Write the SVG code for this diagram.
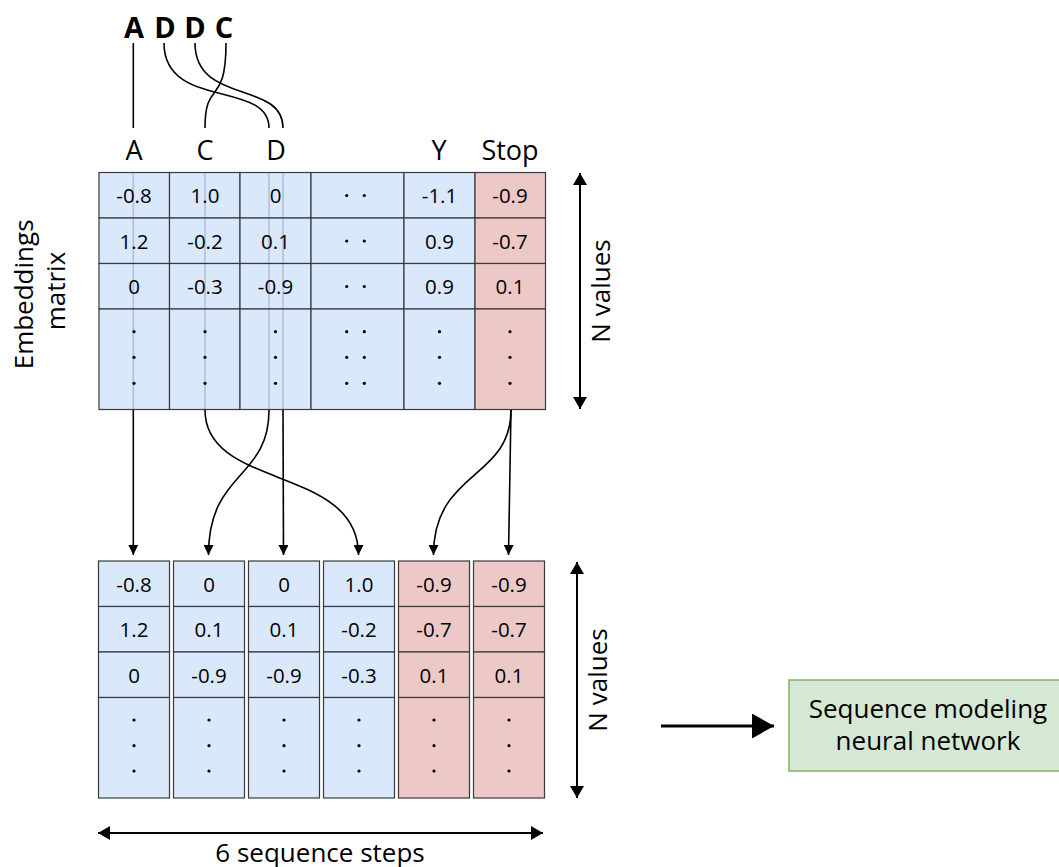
<svg xmlns="http://www.w3.org/2000/svg" width="1059" height="867" viewBox="0 0 1059 867">
  <style>
    text { font-family: "Open Sans", "Noto Sans", sans-serif; fill: #000; }
    .cell { font-size: 20.5px; text-anchor: middle; }
    .lbl { font-size: 27px; text-anchor: middle; }
    .big { font-size: 29px; font-weight: bold; text-anchor: middle; }
    .note { font-size: 26px; text-anchor: middle; }
    .blue { fill: #dae8fc; stroke: #3a3a3a; stroke-width: 1.2; }
    .red { fill: #ecc9c7; stroke: #3a3a3a; stroke-width: 1.2; }
    .edge { fill: none; stroke: #000; stroke-width: 1.6; }
    .ghost { stroke: #1f3350; stroke-opacity: 0.22; stroke-width: 1.6; }
    .dot { fill: #000; }
  </style>
  <defs>
    <marker id="arrSmall" viewBox="0 0 10 10" markerWidth="10" markerHeight="10" refX="10" refY="5" orient="auto" markerUnits="userSpaceOnUse">
      <path d="M0,0 L10,5 L0,10 z" fill="#000"/>
    </marker>
    <marker id="arrMid" viewBox="0 0 12 14" markerWidth="12" markerHeight="14" refX="12" refY="7" orient="auto-start-reverse" markerUnits="userSpaceOnUse">
      <path d="M0,0 L12,7 L0,14 z" fill="#000"/>
    </marker>
    <marker id="arrBig" viewBox="0 0 22 25" markerWidth="22" markerHeight="25" refX="22" refY="12.5" orient="auto" markerUnits="userSpaceOnUse">
      <path d="M0,0 L22,12.5 L0,25 z" fill="#000"/>
    </marker>
  </defs>

  <rect width="1059" height="867" fill="#fff"/>

  <!-- input word -->
  <g id="word">
    <text class="big" x="134" y="38">A</text>
    <text class="big" x="165" y="38">D</text>
    <text class="big" x="195" y="38">D</text>
    <text class="big" x="224" y="38">C</text>
  </g>

  <!-- vocabulary labels -->
  <g id="vocab-labels">
    <text class="lbl" x="134" y="160">A</text>
    <text class="lbl" x="205" y="160">C</text>
    <text class="lbl" x="276" y="160">D</text>
    <text class="lbl" x="439" y="160">Y</text>
    <text class="lbl" x="510" y="160">Stop</text>
  </g>

  <g id="embeddings-label">
    <text class="note" transform="translate(0,291) rotate(-90)">
      <tspan x="0" y="33">Embeddings</tspan>
      <tspan x="0" y="65">matrix</tspan>
    </text>
  </g>

  <!-- embeddings matrix -->
  <g id="embeddings-matrix">
    <!-- column A -->
    <rect class="blue" x="99" y="172.5" width="70.5" height="45.5"/>
    <rect class="blue" x="99" y="218" width="70.5" height="45.5"/>
    <rect class="blue" x="99" y="263.5" width="70.5" height="45.5"/>
    <rect class="blue" x="99" y="309" width="70.5" height="100.5"/>
    <!-- column C -->
    <rect class="blue" x="169.5" y="172.5" width="70.5" height="45.5"/>
    <rect class="blue" x="169.5" y="218" width="70.5" height="45.5"/>
    <rect class="blue" x="169.5" y="263.5" width="70.5" height="45.5"/>
    <rect class="blue" x="169.5" y="309" width="70.5" height="100.5"/>
    <!-- column D -->
    <rect class="blue" x="240" y="172.5" width="71" height="45.5"/>
    <rect class="blue" x="240" y="218" width="71" height="45.5"/>
    <rect class="blue" x="240" y="263.5" width="71" height="45.5"/>
    <rect class="blue" x="240" y="309" width="71" height="100.5"/>
    <!-- elided columns -->
    <rect class="blue" x="311" y="172.5" width="93" height="45.5"/>
    <rect class="blue" x="311" y="218" width="93" height="45.5"/>
    <rect class="blue" x="311" y="263.5" width="93" height="45.5"/>
    <rect class="blue" x="311" y="309" width="93" height="100.5"/>
    <!-- column Y -->
    <rect class="blue" x="404" y="172.5" width="71" height="45.5"/>
    <rect class="blue" x="404" y="218" width="71" height="45.5"/>
    <rect class="blue" x="404" y="263.5" width="71" height="45.5"/>
    <rect class="blue" x="404" y="309" width="71" height="100.5"/>
    <!-- column Stop -->
    <rect class="red" x="475" y="172.5" width="70.5" height="45.5"/>
    <rect class="red" x="475" y="218" width="70.5" height="45.5"/>
    <rect class="red" x="475" y="263.5" width="70.5" height="45.5"/>
    <rect class="red" x="475" y="309" width="70.5" height="100.5"/>

    <!-- lookups passing through the matrix -->
    <line class="ghost" x1="133.3" y1="173" x2="133.3" y2="409"/>
    <line class="ghost" x1="205" y1="173" x2="205" y2="409"/>
    <line class="ghost" x1="269" y1="173" x2="269" y2="409"/>
    <line class="ghost" x1="283" y1="173" x2="283" y2="409"/>

    <text class="cell" x="134" y="203">-0.8</text>
    <text class="cell" x="134" y="248.5">1.2</text>
    <text class="cell" x="134" y="294">0</text>
    <text class="cell" x="205" y="203">1.0</text>
    <text class="cell" x="205" y="248.5">-0.2</text>
    <text class="cell" x="205" y="294">-0.3</text>
    <text class="cell" x="275.5" y="203">0</text>
    <text class="cell" x="275.5" y="248.5">0.1</text>
    <text class="cell" x="275.5" y="294">-0.9</text>
    <text class="cell" x="439.5" y="203">-1.1</text>
    <text class="cell" x="439.5" y="248.5">0.9</text>
    <text class="cell" x="439.5" y="294">0.9</text>
    <text class="cell" x="510" y="203">-0.9</text>
    <text class="cell" x="510" y="248.5">-0.7</text>
    <text class="cell" x="510" y="294">0.1</text>

    <!-- ellipsis dots -->
    <g class="dot">
      <circle cx="346.7" cy="195.5" r="1.6"/><circle cx="364.3" cy="195.5" r="1.6"/>
      <circle cx="346.7" cy="241" r="1.6"/><circle cx="364.3" cy="241" r="1.6"/>
      <circle cx="346.7" cy="286.5" r="1.6"/><circle cx="364.3" cy="286.5" r="1.6"/>
      <circle cx="134" cy="331.7" r="1.6"/><circle cx="134" cy="357.3" r="1.6"/><circle cx="134" cy="383.3" r="1.6"/>
      <circle cx="205" cy="331.7" r="1.6"/><circle cx="205" cy="357.3" r="1.6"/><circle cx="205" cy="383.3" r="1.6"/>
      <circle cx="275.5" cy="331.7" r="1.6"/><circle cx="275.5" cy="357.3" r="1.6"/><circle cx="275.5" cy="383.3" r="1.6"/>
      <circle cx="346.7" cy="331.7" r="1.6"/><circle cx="364.3" cy="331.7" r="1.6"/>
      <circle cx="346.7" cy="357.3" r="1.6"/><circle cx="364.3" cy="357.3" r="1.6"/>
      <circle cx="346.7" cy="383.3" r="1.6"/><circle cx="364.3" cy="383.3" r="1.6"/>
      <circle cx="439.5" cy="331.7" r="1.6"/><circle cx="439.5" cy="357.3" r="1.6"/><circle cx="439.5" cy="383.3" r="1.6"/>
      <circle cx="510" cy="331.7" r="1.6"/><circle cx="510" cy="357.3" r="1.6"/><circle cx="510" cy="383.3" r="1.6"/>
    </g>
  </g>

  <!-- sequence of looked-up vectors -->
  <g id="sequence">
    <rect class="blue" x="98.5" y="561" width="71" height="45.5"/>
    <rect class="blue" x="98.5" y="606.5" width="71" height="45.5"/>
    <rect class="blue" x="98.5" y="652" width="71" height="45.5"/>
    <rect class="blue" x="98.5" y="697.5" width="71" height="100.5"/>

    <rect class="blue" x="173.5" y="561" width="71" height="45.5"/>
    <rect class="blue" x="173.5" y="606.5" width="71" height="45.5"/>
    <rect class="blue" x="173.5" y="652" width="71" height="45.5"/>
    <rect class="blue" x="173.5" y="697.5" width="71" height="100.5"/>

    <rect class="blue" x="248.5" y="561" width="71" height="45.5"/>
    <rect class="blue" x="248.5" y="606.5" width="71" height="45.5"/>
    <rect class="blue" x="248.5" y="652" width="71" height="45.5"/>
    <rect class="blue" x="248.5" y="697.5" width="71" height="100.5"/>

    <rect class="blue" x="323.5" y="561" width="71" height="45.5"/>
    <rect class="blue" x="323.5" y="606.5" width="71" height="45.5"/>
    <rect class="blue" x="323.5" y="652" width="71" height="45.5"/>
    <rect class="blue" x="323.5" y="697.5" width="71" height="100.5"/>

    <rect class="red" x="398.5" y="561" width="71" height="45.5"/>
    <rect class="red" x="398.5" y="606.5" width="71" height="45.5"/>
    <rect class="red" x="398.5" y="652" width="71" height="45.5"/>
    <rect class="red" x="398.5" y="697.5" width="71" height="100.5"/>

    <rect class="red" x="473.5" y="561" width="71" height="45.5"/>
    <rect class="red" x="473.5" y="606.5" width="71" height="45.5"/>
    <rect class="red" x="473.5" y="652" width="71" height="45.5"/>
    <rect class="red" x="473.5" y="697.5" width="71" height="100.5"/>

    <text class="cell" x="134" y="591.5">-0.8</text>
    <text class="cell" x="134" y="637">1.2</text>
    <text class="cell" x="134" y="682.5">0</text>
    <text class="cell" x="209" y="591.5">0</text>
    <text class="cell" x="209" y="637">0.1</text>
    <text class="cell" x="209" y="682.5">-0.9</text>
    <text class="cell" x="284" y="591.5">0</text>
    <text class="cell" x="284" y="637">0.1</text>
    <text class="cell" x="284" y="682.5">-0.9</text>
    <text class="cell" x="359" y="591.5">1.0</text>
    <text class="cell" x="359" y="637">-0.2</text>
    <text class="cell" x="359" y="682.5">-0.3</text>
    <text class="cell" x="434" y="591.5">-0.9</text>
    <text class="cell" x="434" y="637">-0.7</text>
    <text class="cell" x="434" y="682.5">0.1</text>
    <text class="cell" x="509" y="591.5">-0.9</text>
    <text class="cell" x="509" y="637">-0.7</text>
    <text class="cell" x="509" y="682.5">0.1</text>

    <g class="dot">
      <circle cx="134" cy="720" r="1.6"/><circle cx="134" cy="745.7" r="1.6"/><circle cx="134" cy="771" r="1.6"/>
      <circle cx="209" cy="720" r="1.6"/><circle cx="209" cy="745.7" r="1.6"/><circle cx="209" cy="771" r="1.6"/>
      <circle cx="284" cy="720" r="1.6"/><circle cx="284" cy="745.7" r="1.6"/><circle cx="284" cy="771" r="1.6"/>
      <circle cx="359" cy="720" r="1.6"/><circle cx="359" cy="745.7" r="1.6"/><circle cx="359" cy="771" r="1.6"/>
      <circle cx="434" cy="720" r="1.6"/><circle cx="434" cy="745.7" r="1.6"/><circle cx="434" cy="771" r="1.6"/>
      <circle cx="509" cy="720" r="1.6"/><circle cx="509" cy="745.7" r="1.6"/><circle cx="509" cy="771" r="1.6"/>
    </g>
  </g>

  <!-- sequence modeling network -->
  <g id="network">
    <rect x="789" y="680" width="278" height="91" fill="#d5e8d4" stroke="#82b366" stroke-width="1.5"/>
    <text class="note" x="928" y="718">Sequence modeling</text>
    <text class="note" x="928" y="750">neural network</text>
  </g>

  <!-- dimension annotations -->
  <g id="dimensions">
    <line x1="580" y1="173" x2="580" y2="409" stroke="#000" stroke-width="2" marker-start="url(#arrMid)" marker-end="url(#arrMid)"/>
    <text class="note" transform="translate(610,291) rotate(-90)" x="0" y="0">N values</text>
    <line x1="577" y1="562" x2="577" y2="798" stroke="#000" stroke-width="2" marker-start="url(#arrMid)" marker-end="url(#arrMid)"/>
    <text class="note" transform="translate(607,680) rotate(-90)" x="0" y="0">N values</text>
    <line x1="98" y1="833" x2="543" y2="833" stroke="#000" stroke-width="2" marker-start="url(#arrMid)" marker-end="url(#arrMid)"/>
    <text class="note" x="320" y="862">6 sequence steps</text>
  </g>

  <!-- connectors -->
  <g id="connectors">
    <!-- word letters to vocabulary entries -->
    <path class="edge" d="M133.3,43 L133.3,128"/>
    <path class="edge" d="M164,43 C164,110 269,80 269,128"/>
    <path class="edge" d="M195,43 C195,105 283,80 283,128"/>
    <path class="edge" d="M226,43 C226,108 205,78 205,128"/>

    <!-- matrix columns to sequence steps -->
    <path class="edge" d="M133.3,410 L133.3,555" marker-end="url(#arrSmall)"/>
    <path class="edge" d="M269,410 C269,480 208.5,470 208.5,555" marker-end="url(#arrSmall)"/>
    <path class="edge" d="M283,410 L283.5,555" marker-end="url(#arrSmall)"/>
    <path class="edge" d="M205,410 C205,490 358.5,465 358.5,555" marker-end="url(#arrSmall)"/>
    <path class="edge" d="M511,410 C511,480 433.5,470 433.5,555" marker-end="url(#arrSmall)"/>
    <path class="edge" d="M511,410 L508.5,555" marker-end="url(#arrSmall)"/>

    <!-- sequence into network -->
    <line x1="661" y1="726" x2="774" y2="726" stroke="#000" stroke-width="3" marker-end="url(#arrBig)"/>
  </g>
</svg>
